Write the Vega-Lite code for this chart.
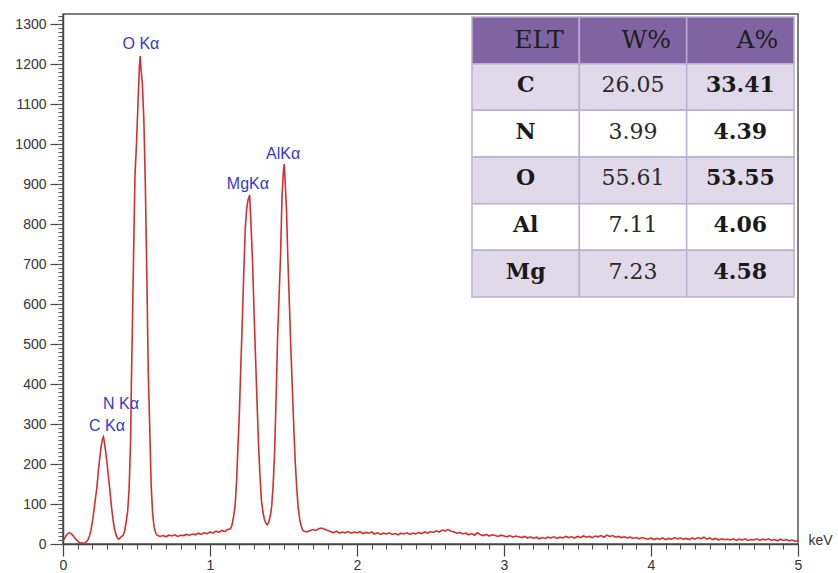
{
  "$schema": "https://vega.github.io/schema/vega-lite/v6.json",
  "width": 735,
  "height": 530,
  "autosize": {"type": "none"},
  "padding": {"left": 63, "top": 14, "right": 40, "bottom": 29},
  "config": {
    "view": {"stroke": "#555555", "strokeWidth": 1.5}
  },
  "datasets": {
    "spectrum": [
      {"e":0,"c":8},{"e":0.01,"c":14},{"e":0.02,"c":20},{"e":0.03,"c":25},{"e":0.04,"c":28},{"e":0.05,"c":27},{"e":0.06,"c":24},{"e":0.07,"c":20},{"e":0.08,"c":15},{"e":0.09,"c":11},{"e":0.1,"c":7},{"e":0.11,"c":4},{"e":0.12,"c":3},{"e":0.13,"c":2},{"e":0.14,"c":2},{"e":0.15,"c":3},{"e":0.16,"c":6},{"e":0.17,"c":11},{"e":0.18,"c":20},{"e":0.19,"c":34},{"e":0.2,"c":55},{"e":0.21,"c":82},{"e":0.22,"c":112},{"e":0.23,"c":140},{"e":0.24,"c":180},{"e":0.25,"c":215},{"e":0.26,"c":245},{"e":0.27,"c":264},{"e":0.275,"c":268},{"e":0.28,"c":258},{"e":0.29,"c":232},{"e":0.3,"c":200},{"e":0.31,"c":165},{"e":0.32,"c":130},{"e":0.33,"c":92},{"e":0.34,"c":62},{"e":0.35,"c":38},{"e":0.36,"c":24},{"e":0.37,"c":15},{"e":0.38,"c":12},{"e":0.39,"c":16},{"e":0.4,"c":19},{"e":0.41,"c":22},{"e":0.42,"c":34},{"e":0.43,"c":55},{"e":0.44,"c":82},{"e":0.45,"c":140},{"e":0.46,"c":258},{"e":0.465,"c":400},{"e":0.47,"c":500},{"e":0.48,"c":720},{"e":0.49,"c":925},{"e":0.5,"c":1000},{"e":0.51,"c":1100},{"e":0.52,"c":1195},{"e":0.525,"c":1220},{"e":0.53,"c":1190},{"e":0.54,"c":1150},{"e":0.55,"c":1060},{"e":0.56,"c":900},{"e":0.57,"c":680},{"e":0.58,"c":430},{"e":0.59,"c":290},{"e":0.6,"c":145},{"e":0.61,"c":75},{"e":0.62,"c":42},{"e":0.63,"c":28},{"e":0.64,"c":22},{"e":0.66,"c":19},{"e":0.68,"c":21},{"e":0.7,"c":18},{"e":0.72,"c":22},{"e":0.74,"c":20},{"e":0.76,"c":23},{"e":0.78,"c":19},{"e":0.8,"c":22},{"e":0.82,"c":21},{"e":0.84,"c":24},{"e":0.86,"c":22},{"e":0.88,"c":25},{"e":0.9,"c":23},{"e":0.92,"c":27},{"e":0.94,"c":24},{"e":0.96,"c":28},{"e":0.98,"c":26},{"e":1,"c":30},{"e":1.02,"c":27},{"e":1.04,"c":32},{"e":1.06,"c":29},{"e":1.08,"c":34},{"e":1.1,"c":31},{"e":1.12,"c":36},{"e":1.14,"c":38},{"e":1.15,"c":48},{"e":1.16,"c":68},{"e":1.17,"c":92},{"e":1.18,"c":150},{"e":1.19,"c":240},{"e":1.2,"c":330},{"e":1.21,"c":450},{"e":1.22,"c":560},{"e":1.23,"c":680},{"e":1.24,"c":790},{"e":1.25,"c":840},{"e":1.26,"c":862},{"e":1.27,"c":872},{"e":1.28,"c":790},{"e":1.29,"c":700},{"e":1.3,"c":575},{"e":1.31,"c":465},{"e":1.32,"c":355},{"e":1.33,"c":250},{"e":1.34,"c":170},{"e":1.35,"c":108},{"e":1.36,"c":80},{"e":1.37,"c":62},{"e":1.38,"c":52},{"e":1.39,"c":48},{"e":1.4,"c":55},{"e":1.41,"c":70},{"e":1.42,"c":95},{"e":1.43,"c":150},{"e":1.44,"c":235},{"e":1.45,"c":370},{"e":1.46,"c":520},{"e":1.47,"c":620},{"e":1.48,"c":720},{"e":1.49,"c":870},{"e":1.5,"c":935},{"e":1.505,"c":950},{"e":1.51,"c":915},{"e":1.52,"c":840},{"e":1.53,"c":710},{"e":1.54,"c":600},{"e":1.55,"c":490},{"e":1.56,"c":390},{"e":1.57,"c":290},{"e":1.58,"c":205},{"e":1.59,"c":140},{"e":1.6,"c":91},{"e":1.61,"c":62},{"e":1.62,"c":45},{"e":1.63,"c":35},
      {"e":1.64,"c":32},{"e":1.66,"c":30},{"e":1.68,"c":33},{"e":1.7,"c":36},{"e":1.72,"c":34},{"e":1.74,"c":38},{"e":1.76,"c":40},{"e":1.78,"c":37},{"e":1.8,"c":34},{"e":1.82,"c":31},{"e":1.84,"c":28},{"e":1.86,"c":32},{"e":1.88,"c":27},{"e":1.9,"c":30},{"e":1.92,"c":28},{"e":1.94,"c":31},{"e":1.96,"c":27},{"e":1.98,"c":30},{"e":2,"c":28},{"e":2.02,"c":31},{"e":2.04,"c":26},{"e":2.06,"c":29},{"e":2.08,"c":27},{"e":2.1,"c":30},{"e":2.12,"c":25},{"e":2.14,"c":28},{"e":2.16,"c":24},{"e":2.18,"c":27},{"e":2.2,"c":25},{"e":2.22,"c":28},{"e":2.24,"c":24},{"e":2.26,"c":26},{"e":2.28,"c":23},{"e":2.3,"c":27},{"e":2.32,"c":25},{"e":2.34,"c":28},{"e":2.36,"c":24},{"e":2.38,"c":27},{"e":2.4,"c":25},{"e":2.42,"c":29},{"e":2.44,"c":26},{"e":2.46,"c":30},{"e":2.48,"c":27},{"e":2.5,"c":31},{"e":2.52,"c":29},{"e":2.54,"c":33},{"e":2.56,"c":30},{"e":2.58,"c":35},{"e":2.6,"c":33},{"e":2.62,"c":36},{"e":2.64,"c":32},{"e":2.66,"c":30},{"e":2.68,"c":27},{"e":2.7,"c":29},{"e":2.72,"c":25},{"e":2.74,"c":27},{"e":2.76,"c":23},{"e":2.78,"c":26},{"e":2.8,"c":22},{"e":2.82,"c":28},{"e":2.84,"c":23},{"e":2.86,"c":21},{"e":2.88,"c":24},{"e":2.9,"c":20},{"e":2.92,"c":23},{"e":2.94,"c":21},{"e":2.96,"c":19},{"e":2.98,"c":22},{"e":3,"c":20},{"e":3.02,"c":18},{"e":3.04,"c":21},{"e":3.06,"c":17},{"e":3.08,"c":20},{"e":3.1,"c":18},{"e":3.12,"c":16},{"e":3.14,"c":19},{"e":3.16,"c":15},{"e":3.18,"c":18},{"e":3.2,"c":14},{"e":3.22,"c":17},{"e":3.24,"c":13},{"e":3.26,"c":16},{"e":3.28,"c":14},{"e":3.3,"c":17},{"e":3.32,"c":15},{"e":3.34,"c":18},{"e":3.36,"c":14},{"e":3.38,"c":17},{"e":3.4,"c":15},{"e":3.42,"c":19},{"e":3.44,"c":16},{"e":3.46,"c":18},{"e":3.48,"c":15},{"e":3.5,"c":19},{"e":3.52,"c":16},{"e":3.54,"c":20},{"e":3.56,"c":17},{"e":3.58,"c":19},{"e":3.6,"c":16},{"e":3.62,"c":20},{"e":3.64,"c":18},{"e":3.66,"c":21},{"e":3.68,"c":17},{"e":3.7,"c":22},{"e":3.72,"c":19},{"e":3.74,"c":21},{"e":3.76,"c":17},{"e":3.78,"c":19},{"e":3.8,"c":16},{"e":3.82,"c":18},{"e":3.84,"c":15},{"e":3.86,"c":17},{"e":3.88,"c":14},{"e":3.9,"c":16},{"e":3.92,"c":13},{"e":3.94,"c":16},{"e":3.96,"c":14},{"e":3.98,"c":12},{"e":4,"c":15},{"e":4.02,"c":11},{"e":4.04,"c":14},{"e":4.06,"c":12},{"e":4.08,"c":15},{"e":4.1,"c":11},{"e":4.12,"c":14},{"e":4.14,"c":12},{"e":4.16,"c":16},{"e":4.18,"c":13},{"e":4.2,"c":15},{"e":4.22,"c":12},{"e":4.24,"c":14},{"e":4.26,"c":11},{"e":4.28,"c":15},{"e":4.3,"c":12},{"e":4.32,"c":16},{"e":4.34,"c":13},{"e":4.36,"c":17},{"e":4.38,"c":12},{"e":4.4,"c":15},{"e":4.42,"c":11},{"e":4.44,"c":14},{"e":4.46,"c":10},{"e":4.48,"c":13},{"e":4.5,"c":11},{"e":4.52,"c":12},{"e":4.54,"c":10},{"e":4.56,"c":13},{"e":4.58,"c":9},{"e":4.6,"c":12},{"e":4.62,"c":10},{"e":4.64,"c":13},{"e":4.66,"c":9},{"e":4.68,"c":11},{"e":4.7,"c":10},{"e":4.72,"c":13},{"e":4.74,"c":9},{"e":4.76,"c":12},{"e":4.78,"c":10},{"e":4.8,"c":13},{"e":4.82,"c":9},{"e":4.84,"c":11},{"e":4.86,"c":8},{"e":4.88,"c":12},{"e":4.9,"c":9},{"e":4.92,"c":11},{"e":4.94,"c":8},{"e":4.96,"c":10},{"e":4.98,"c":7},{"e":5,"c":9}
    ],
    "peaks": [
      {"e":0.53,"c":1249,"label":"O Kα"},
      {"e":1.258,"c":901,"label":"MgKα"},
      {"e":1.497,"c":974,"label":"AlKα"},
      {"e":0.395,"c":351,"label":"N Kα"},
      {"e":0.299,"c":296,"label":"C Kα"}
    ],
    "table": [
      {"row":"header","col":"ELT","v":"ELT"},{"row":"header","col":"W%","v":"W%"},{"row":"header","col":"A%","v":"A%"},
      {"row":"C","col":"ELT","v":"C"},{"row":"C","col":"W%","v":"26.05"},{"row":"C","col":"A%","v":"33.41"},
      {"row":"N","col":"ELT","v":"N"},{"row":"N","col":"W%","v":"3.99"},{"row":"N","col":"A%","v":"4.39"},
      {"row":"O","col":"ELT","v":"O"},{"row":"O","col":"W%","v":"55.61"},{"row":"O","col":"A%","v":"53.55"},
      {"row":"Al","col":"ELT","v":"Al"},{"row":"Al","col":"W%","v":"7.11"},{"row":"Al","col":"A%","v":"4.06"},
      {"row":"Mg","col":"ELT","v":"Mg"},{"row":"Mg","col":"W%","v":"7.23"},{"row":"Mg","col":"A%","v":"4.58"}
    ]
  },
  "layer": [
    {
      "data": {"name": "table"},
      "mark": {"type": "rect", "stroke": "#bcaed3", "strokeWidth": 1.5},
      "encoding": {
        "x": {"field": "col", "type": "nominal", "scale": {"domain": ["ELT", "W%", "A%"], "range": [409, 731], "paddingInner": 0, "paddingOuter": 0}, "axis": null},
        "y": {"field": "row", "type": "nominal", "scale": {"domain": ["header", "C", "N", "O", "Al", "Mg"], "range": [3, 283], "paddingInner": 0, "paddingOuter": 0}, "axis": null},
        "fill": {"field": "row", "type": "nominal", "legend": null,
                 "scale": {"domain": ["header", "C", "N", "O", "Al", "Mg"], "range": ["#8064a2", "#e0d9ea", "#ffffff", "#e0d9ea", "#ffffff", "#e0d9ea"]}}
      }
    },
    {
      "data": {"name": "table"},
      "transform": [{"filter": "datum.row === 'header'"}],
      "mark": {"type": "text", "font": "DejaVu Serif", "fontSize": 25, "color": "#1e1e1e", "align": "right", "baseline": "middle", "dx": 38},
      "encoding": {
        "x": {"field": "col", "type": "nominal", "scale": {"domain": ["ELT", "W%", "A%"], "range": [409, 731], "paddingInner": 0, "paddingOuter": 0}, "axis": null},
        "y": {"field": "row", "type": "nominal", "scale": {"domain": ["header", "C", "N", "O", "Al", "Mg"], "range": [3, 283], "paddingInner": 0, "paddingOuter": 0}, "axis": null},
        "text": {"field": "v"}
      }
    },
    {
      "data": {"name": "table"},
      "transform": [{"filter": "datum.row !== 'header' && datum.col !== 'W%'"}],
      "mark": {"type": "text", "font": "DejaVu Serif", "fontSize": 22, "fontWeight": "bold", "color": "#1a1a1a", "align": "center", "baseline": "middle", "dy": -2},
      "encoding": {
        "x": {"field": "col", "type": "nominal", "scale": {"domain": ["ELT", "W%", "A%"], "range": [409, 731], "paddingInner": 0, "paddingOuter": 0}, "axis": null},
        "y": {"field": "row", "type": "nominal", "scale": {"domain": ["header", "C", "N", "O", "Al", "Mg"], "range": [3, 283], "paddingInner": 0, "paddingOuter": 0}, "axis": null},
        "text": {"field": "v"}
      }
    },
    {
      "data": {"name": "table"},
      "transform": [{"filter": "datum.row !== 'header' && datum.col === 'W%'"}],
      "mark": {"type": "text", "font": "DejaVu Serif", "fontSize": 22, "color": "#2a2a2a", "align": "center", "baseline": "middle", "dy": -2},
      "encoding": {
        "x": {"field": "col", "type": "nominal", "scale": {"domain": ["ELT", "W%", "A%"], "range": [409, 731], "paddingInner": 0, "paddingOuter": 0}, "axis": null},
        "y": {"field": "row", "type": "nominal", "scale": {"domain": ["header", "C", "N", "O", "Al", "Mg"], "range": [3, 283], "paddingInner": 0, "paddingOuter": 0}, "axis": null},
        "text": {"field": "v"}
      }
    },
    {
      "data": {"name": "spectrum"},
      "mark": {"type": "line", "color": "#d03030", "strokeWidth": 1.6, "interpolate": "linear"},
      "encoding": {
        "x": {"field": "e", "type": "quantitative", "scale": {"domain": [0, 5], "nice": false},
              "axis": {"orient": "bottom", "values": [0, 1, 2, 3, 4, 5], "grid": false, "tickSize": 12, "labelPadding": 2, "domainWidth": 1.5, "domainColor": "#444444", "tickColor": "#444444", "tickWidth": 1.2, "labelFlush": false,
                       "labelFont": "Liberation Sans", "labelFontSize": 14, "labelColor": "#333333",
                       "title": "keV", "titleFont": "Liberation Sans", "titleFontSize": 14, "titleFontWeight": "normal", "titleColor": "#333333",
                       "titleX": 745, "titleY": -4, "titleAlign": "left", "titleBaseline": "middle"}},
        "y": {"field": "c", "type": "quantitative", "scale": {"domain": [0, 1325], "nice": false},
              "axis": {"orient": "left", "values": [0,100,200,300,400,500,600,700,800,900,1000,1100,1200,1300], "format": "d", "grid": false, "tickSize": 13, "labelPadding": 4, "domainWidth": 1.5, "domainColor": "#444444", "tickColor": "#444444", "tickWidth": 1.2, "labelFlush": false,
                       "labelFont": "Liberation Sans", "labelFontSize": 14, "labelColor": "#333333", "title": null}}
      }
    },
    {
      "data": {"name": "peaks"},
      "mark": {"type": "text", "font": "Liberation Sans", "fontSize": 16, "color": "#3838c8", "baseline": "middle", "align": "center"},
      "encoding": {
        "x": {"field": "e", "type": "quantitative", "scale": {"domain": [0, 5], "nice": false},
              "axis": {"orient": "bottom", "tickCount": 50, "labels": false, "domain": false, "grid": false, "tickSize": 5, "tickColor": "#444444", "zindex": 1, "title": null}},
        "y": {"field": "c", "type": "quantitative", "scale": {"domain": [0, 1325], "nice": false},
              "axis": {"orient": "left", "tickCount": 132, "labels": false, "domain": false, "grid": false, "tickSize": 5, "tickColor": "#555555", "zindex": 1, "title": null}},
        "text": {"field": "label"}
      }
    }
  ],
  "resolve": {"scale": {"x": "independent", "y": "independent", "fill": "independent"}}
}
